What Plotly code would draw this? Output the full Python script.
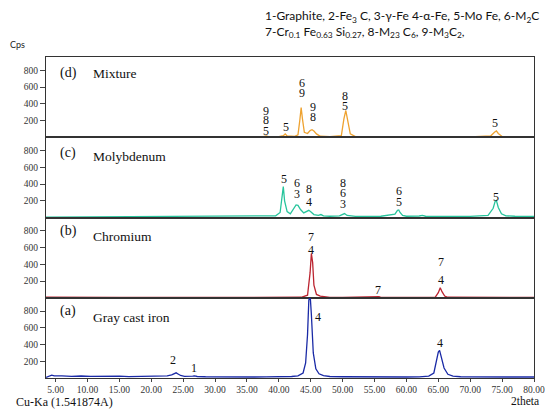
import plotly.graph_objects as go
from plotly.subplots import make_subplots

# ---------------- data ----------------
x_ticks = [5, 10, 15, 20, 25, 30, 35, 40, 45, 50, 55, 60, 65, 70, 75, 80]
x_tick_text = ["%.2f" % v for v in x_ticks]
y_ticks = [200, 400, 600, 800]

# (a) Gray cast iron
a_x = [3.5, 4.0, 4.4, 4.8, 5.3, 6.0, 7.5, 9.0, 10.5, 12.0, 13.5, 15.0, 16.5, 18.0, 19.5,
       21.0, 22.5, 23.2, 23.6, 23.9, 24.2, 24.6, 25.2, 26.0, 26.5, 26.8, 27.2, 28.5, 30.0,
       32.0, 34.0, 36.0, 38.0, 40.0, 42.0, 43.0, 43.8, 44.2, 44.5, 44.7, 44.9, 45.1, 45.4,
       45.8, 46.3, 47.0, 48.0, 50.0, 52.0, 54.0, 56.0, 58.0, 60.0, 62.0, 63.5, 64.3, 64.7,
       65.0, 65.2, 65.5, 65.9, 66.5, 67.3, 68.5, 70.0, 72.0, 74.0, 76.0, 78.0, 80.0]
a_y = [8, 28, 35, 26, 22, 25, 20, 24, 19, 23, 18, 22, 17, 20, 16,
       19, 25, 38, 55, 62, 48, 30, 20, 16, 22, 26, 18, 15, 13,
       12, 11, 12, 13, 14, 18, 25, 60, 180, 520, 930, 1000, 760, 300,
       110, 50, 28, 18, 15, 13, 12, 12, 11, 12, 14, 22, 60, 190,
       310, 330, 250, 120, 45, 22, 15, 13, 12, 11, 12, 12, 12]

# (b) Chromium
b_x = [3.5, 6, 10, 15, 20, 25, 30, 35, 40, 43.5, 44.5, 44.9, 45.1, 45.3, 45.5, 45.9, 46.5,
       47.5, 48.0, 50, 55.0, 55.4, 55.7, 56.0, 60, 64.5, 65.0, 65.3, 65.6, 66.0, 66.5, 70, 75, 80]
b_y = [8, 6, 5, 5, 4, 5, 4, 5, 5, 6, 30, 300, 530, 420, 150, 40, 20,
       15, 4, 4, 5, 14, 12, 4, 4, 6, 60, 120, 70, 20, 6, 4, 4, 4]

# (c) Molybdenum
c_x = [3.5, 8, 10, 14, 18, 22, 26, 30, 34, 37, 39.5, 40.2, 40.5, 40.7, 40.9, 41.3, 41.8,
       42.3, 42.7, 43.0, 43.4, 43.9, 44.4, 44.7, 45.0, 45.5, 46.2, 46.6, 47.0, 48.0, 49.5,
       50.0, 50.3, 50.7, 52, 54, 56, 58.2, 58.6, 58.8, 59.0, 59.4, 60, 62, 62.5, 63, 66, 70,
       72.8, 73.6, 73.9, 74.1, 74.4, 74.9, 75.6, 77, 80]
c_y = [5, 6, 14, 12, 15, 11, 14, 12, 13, 15, 20, 60, 250, 370, 200, 70, 45,
       110, 150, 145, 95, 55, 75, 86, 70, 35, 25, 35, 20, 15, 20,
       40, 47, 25, 14, 13, 15, 40, 86, 90, 60, 25, 15, 18, 25, 15, 12, 13,
       25, 110, 190, 204, 120, 45, 20, 15, 14]

# (d) Mixture
d_x = [3.5, 10, 20, 30, 36, 37.6, 38.0, 38.4, 40, 40.7, 41.0, 41.3, 42.5, 43.0, 43.3, 43.5,
       43.7, 44.0, 44.5, 44.9, 45.2, 45.5, 45.9, 46.5, 48, 49.8, 50.2, 50.5, 50.8, 51.2, 52,
       56, 60, 65, 70, 73.2, 73.8, 74.1, 74.4, 75, 78, 80]
d_y = [3, 3, 4, 4, 5, 8, 15, 8, 6, 18, 40, 15, 10, 30, 210, 354,
       220, 60, 45, 80, 90, 75, 40, 12, 6, 20, 220, 320, 200, 40, 8,
       5, 5, 5, 5, 15, 60, 75, 45, 10, 5, 4]

# phase labels: (2theta, height, text)
d_labels = [(38.0, 315, "9"), (38.0, 205, "8"), (38.0, 75, "5"), (41.1, 125, "5"),
            (43.6, 650, "6"), (43.6, 530, "9"), (45.3, 360, "9"), (45.3, 245, "8"),
            (50.3, 490, "8"), (50.3, 375, "5"), (73.9, 167, "5")]
c_labels = [(40.8, 460, "5"), (42.8, 412, "6"), (42.8, 282, "3"), (44.8, 345, "8"),
            (44.8, 184, "4"), (50.1, 410, "8"), (50.1, 290, "6"), (50.1, 165, "3"),
            (58.8, 322, "6"), (58.8, 184, "5"), (74.1, 251, "5")]
b_labels = [(45.0, 729, "7"), (45.0, 568, "4"), (65.4, 432, "7"), (65.4, 212, "4"),
            (55.5, 91, "7")]
a_labels = [(46.1, 729, "4"), (65.2, 419, "4"), (23.4, 217, "2"), (26.7, 120, "1")]

panels = [
    ("(d)", "Mixture", d_x, d_y, d_labels, "#eea230"),
    ("(c)", "Molybdenum", c_x, c_y, c_labels, "#27c49c"),
    ("(b)", "Chromium", b_x, b_y, b_labels, "#bb2430"),
    ("(a)", "Gray cast iron", a_x, a_y, a_labels, "#1a2aa6"),
]

# ---------------- figure ----------------
W, H = 545, 412
ML, MR, MT, MB = 46, 11, 57, 34
PW, PH = W - ML - MR, H - MT - MB

fig = make_subplots(rows=4, cols=1, shared_xaxes=True, vertical_spacing=0)
serif = "Liberation Serif"
ann = []
for i, (tag, name, xs, ys, labs, col) in enumerate(panels):
    r = i + 1
    sfx = "" if r == 1 else str(r)
    fig.add_trace(go.Scatter(x=xs, y=ys, mode="lines", line=dict(color=col, width=1.3),
                             showlegend=False, hoverinfo="skip"), row=r, col=1)
    for (lx, ly, t) in labs:
        ann.append(dict(x=lx, y=ly, xref="x" + sfx, yref="y" + sfx, text=t, showarrow=False,
                        xanchor="center", yanchor="middle",
                        font=dict(family=serif, size=12, color="#111")))
    tag_dy = 16 if r <= 2 else 13
    name_dy = 16 if r == 1 else 19 if r < 4 else 20
    ann.append(dict(x=(58 - ML) / PW, y=1 - tag_dy / (PH / 4), xref="paper",
                    yref="y" + sfx + " domain", text=tag, showarrow=False, xanchor="left",
                    yanchor="middle", font=dict(family=serif, size=14, color="#111")))
    ann.append(dict(x=(91 - ML) / PW, y=1 - name_dy / (PH / 4), xref="paper",
                    yref="y" + sfx + " domain", text=name, showarrow=False, xanchor="left",
                    yanchor="middle", font=dict(family=serif, size=13.5, color="#111")))
    fig.update_yaxes(row=r, col=1, range=[0, 960], tickvals=y_ticks, ticks="outside",
                     ticklen=5, tickcolor="#444", showline=True, mirror=True,
                     linecolor="#333", linewidth=1, showgrid=False, zeroline=False,
                     automargin=False,
                     tickfont=dict(family=serif, size=9.5, color="#333"))
    fig.update_xaxes(row=r, col=1, range=[3.5, 80], showline=True, mirror=True,
                     linecolor="#333", linewidth=1, showgrid=False, zeroline=False,
                     tickvals=x_ticks, ticktext=x_tick_text, ticklabeloverflow="allow",
                     automargin=False,
                     ticks="outside" if r == 4 else "", ticklen=3, tickcolor="#444",
                     showticklabels=(r == 4),
                     tickfont=dict(family=serif, size=9.5, color="#333"))

def px(xp):
    return (xp - ML) / PW

def py(yp):
    return (H - MB - yp) / PH

sans = "Lato"
ann += [
    dict(x=px(541), y=py(24), xref="paper", yref="paper", xanchor="right", yanchor="middle",
         align="left", showarrow=False,
         text="1-Graphite, 2-Fe<sub>3</sub> C, 3-γ-Fe 4-α-Fe, 5-Mo Fe, 6-M<sub>2</sub>C<br>"
              "7-Cr<sub>0.1</sub> Fe<sub>0.63</sub> Si<sub>0.27</sub>, 8-M<sub>23</sub> C<sub>6</sub>, 9-M<sub>3</sub>C<sub>2</sub>,",
         font=dict(family=sans, size=12, color="#111")),
    dict(x=px(8), y=py(44), xref="paper", yref="paper", xanchor="left", yanchor="middle",
         showarrow=False, text="Cps", font=dict(family=sans, size=9, color="#222")),
    dict(x=px(14), y=py(402), xref="paper", yref="paper", xanchor="left", yanchor="middle",
         showarrow=False, text="Cu-Ka (1.541874A)",
         font=dict(family=serif, size=12, color="#111")),
    dict(x=px(541), y=py(401), xref="paper", yref="paper", xanchor="right", yanchor="middle",
         showarrow=False, text="2theta", font=dict(family=serif, size=11.5, color="#111")),
]

fig.update_layout(width=W, height=H, margin=dict(l=ML, r=MR, t=MT, b=MB),
                  paper_bgcolor="white", plot_bgcolor="white", annotations=ann)
fig.write_html("out.html", config={"displayModeBar": False},
               post_script="document.body.style.margin='0';document.body.style.overflow='hidden';")
